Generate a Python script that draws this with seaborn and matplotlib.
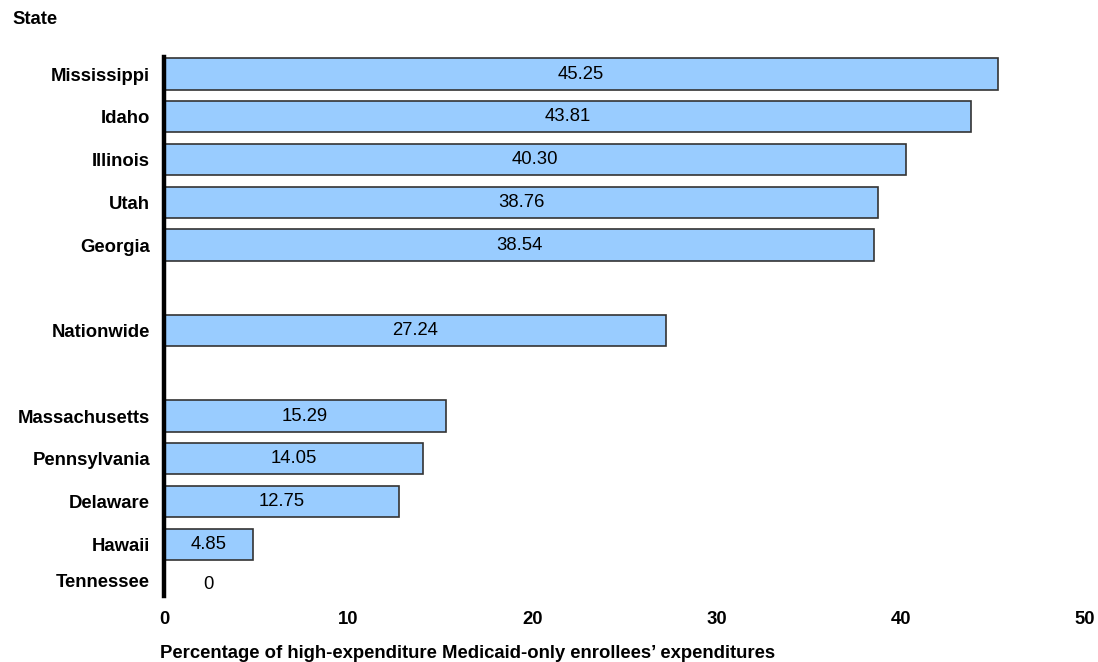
import matplotlib
matplotlib.use("Agg")
import matplotlib.pyplot as plt
import seaborn as sns
import pandas as pd

states = ["Mississippi", "Idaho", "Illinois", "Utah", "Georgia",
          "Nationwide",
          "Massachusetts", "Pennsylvania", "Delaware", "Hawaii", "Tennessee"]
percentages = [45.25, 43.81, 40.30, 38.76, 38.54,
               27.24,
               15.29, 14.05, 12.75, 4.85, 0.0]
value_labels = ["45.25", "43.81", "40.30", "38.76", "38.54",
                "27.24",
                "15.29", "14.05", "12.75", "4.85", "0"]
x_ticks = [0, 10, 20, 30, 40, 50]

# row slots, leaving a blank slot around the nationwide bar
rows = [0, 1, 2, 3, 4, 6, 8, 9, 10, 11, 12]
# the empty last row's name sits a little higher than its slot
label_rows = rows[:-1] + [11.85]

df = pd.DataFrame({"state": states, "pct": percentages, "row": rows})

sns.set_theme(style="white")
plt.rcParams["font.family"] = ["Liberation Sans", "DejaVu Sans"]
plt.rcParams["text.color"] = "black"
plt.rcParams["xtick.color"] = "black"
plt.rcParams["ytick.color"] = "black"

fig = plt.figure(figsize=(10.98, 6.62), dpi=100)
ax = fig.add_axes([164 / 1098, 1 - 595.5 / 662, (1085 - 164) / 1098, (595.5 - 57) / 662])

sns.barplot(data=df, x="pct", y="row", orient="h", native_scale=True,
            color="#99CCFF", saturation=1, width=0.73,
            edgecolor="#333333", linewidth=1.2, ax=ax)

ax.set_xlim(0, 50)
ax.set_ylim(12.2, -0.4)
ax.set_xticks(x_ticks)
ax.set_xticklabels([str(t) for t in x_ticks], fontsize=13.3, fontweight="bold")
ax.set_yticks(label_rows)
ax.set_yticklabels(states, fontsize=13.3, fontweight="bold")
ax.tick_params(axis="x", length=0, pad=11, labelcolor="black")
ax.tick_params(axis="y", length=0, pad=10, labelcolor="black")
ax.set_xlabel("")
ax.set_ylabel("")

for side in ["top", "right", "bottom"]:
    ax.spines[side].set_visible(False)
ax.spines["left"].set_linewidth(3.2)
ax.spines["left"].set_color("black")

for val, lab, r in zip(percentages, value_labels, rows):
    xpos = val / 2 if val > 0 else 2.4
    ax.text(xpos, r - 0.05 if val == 0 else r, lab, ha="center", va="center",
            fontsize=13.3, color="black")

fig.text(12 / 1098, 1 - 20 / 662, "State", ha="left", va="center",
         fontsize=13.3, fontweight="bold", color="black")
fig.text(160 / 1098, 1 - 653 / 662,
         "Percentage of high-expenditure Medicaid-only enrollees\u2019 expenditures",
         ha="left", va="center", fontsize=13.3, fontweight="bold", color="black")

fig.savefig("out.png", dpi=100)
